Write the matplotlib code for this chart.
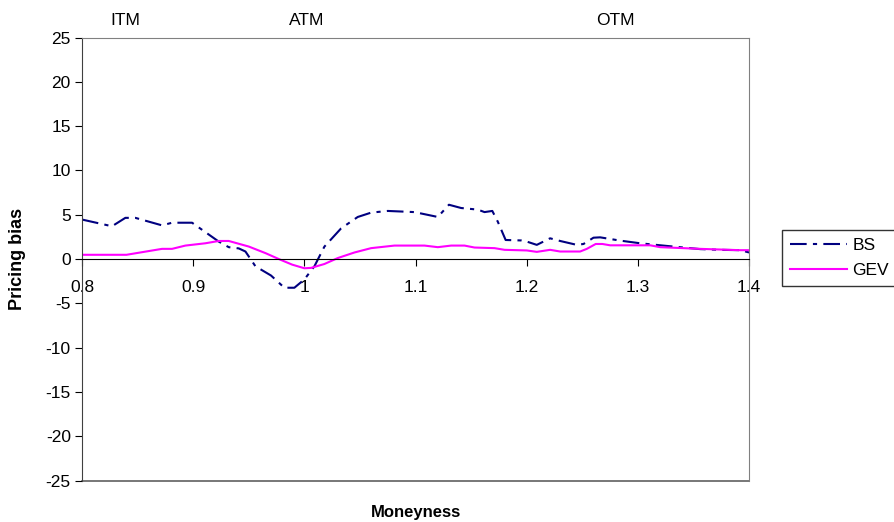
import matplotlib
matplotlib.use("Agg")
import matplotlib.pyplot as plt

plt.rcParams['font.family'] = ['Liberation Sans', 'DejaVu Sans']

bs_x = [0.800, 0.827, 0.839, 0.848, 0.872, 0.881, 0.899, 0.923, 0.932, 0.941,
        0.947, 0.956, 0.970, 0.982, 0.991, 1.000, 1.009, 1.018, 1.033, 1.048,
        1.060, 1.075, 1.099, 1.120, 1.130, 1.141, 1.156, 1.162, 1.169, 1.174,
        1.181, 1.195, 1.200, 1.209, 1.221, 1.230, 1.245, 1.251, 1.260, 1.266,
        1.284, 1.302, 1.326, 1.356, 1.374, 1.392, 1.400]
bs_y = [4.46, 3.7, 4.65, 4.65, 3.8, 4.1, 4.1, 1.97, 1.34, 1.2,
        0.85, -0.82, -1.86, -3.24, -3.24, -2.3, -0.82, 1.4, 3.46, 4.75,
        5.24, 5.43, 5.3, 4.75, 6.13, 5.76, 5.58, 5.3, 5.43, 4.2,
        2.15, 2.1, 1.97, 1.6, 2.34, 2.04, 1.6, 1.7, 2.41, 2.45,
        2.08, 1.78, 1.48, 1.12, 1.04, 1.0, 0.74]

gev_x = [0.800, 0.840, 0.872, 0.881, 0.893, 0.911, 0.923, 0.932, 0.950, 0.965,
         0.977, 0.989, 1.000, 1.006, 1.018, 1.030, 1.045, 1.060, 1.081, 1.108,
         1.120, 1.132, 1.144, 1.153, 1.171, 1.180, 1.200, 1.209, 1.221, 1.230,
         1.248, 1.254, 1.262, 1.268, 1.275, 1.311, 1.320, 1.356, 1.392, 1.400]
gev_y = [0.48, 0.48, 1.15, 1.15, 1.52, 1.78, 2.04, 2.04, 1.41, 0.67,
         0.0, -0.63, -1.04, -1.0, -0.56, 0.11, 0.74, 1.23, 1.52, 1.52,
         1.34, 1.52, 1.52, 1.3, 1.23, 1.04, 0.97, 0.81, 1.04, 0.85,
         0.85, 1.15, 1.7, 1.7, 1.55, 1.55, 1.34, 1.15, 1.0, 1.0]

x_ticks = [0.8, 0.9, 1.0, 1.1, 1.2, 1.3, 1.4]
x_tick_labels = ["0.8", "0.9", "1", "1.1", "1.2", "1.3", "1.4"]
y_ticks = [25, 20, 15, 10, 5, 0, -5, -10, -15, -20, -25]
zone_labels = ["ITM", "ATM", "OTM"]
zone_pos = [0.839, 1.002, 1.28]

FS = 12.5

fig = plt.figure(figsize=(8.94, 5.22), dpi=100)
ax = fig.add_axes([0.0917, 0.0795, 0.838 - 0.0917, 0.928 - 0.0795])

ax.plot(bs_x, bs_y, color='#000080', lw=1.5, linestyle=(0, (8, 3, 2, 3)), label='BS')
ax.plot(gev_x, gev_y, color='#FF00FF', lw=1.5, label='GEV')

ax.set_xlim(0.8, 1.4)
ax.set_ylim(-25, 25)
ax.set_yticks(y_ticks)
ax.set_yticklabels([str(v) for v in y_ticks])
ax.set_xticks(x_ticks)
ax.set_xticklabels(x_tick_labels)

# Excel-style: category axis crosses at 0
ax.spines['bottom'].set_position(('data', 0))
ax.spines['bottom'].set_color('black')
ax.spines['left'].set_color('#404040')
ax.spines['top'].set_color('#808080')
ax.spines['right'].set_color('#808080')
ax.axhline(-25, color='#606060', lw=1.2, clip_on=False, zorder=0)
ax.tick_params(axis='x', direction='out', length=5, pad=10, labelsize=FS)
ax.tick_params(axis='y', direction='out', length=5, pad=3, labelsize=FS)

for lab, xp in zip(zone_labels, zone_pos):
    ax.text(xp, 26.9, lab, ha='center', va='center', fontsize=FS, clip_on=False)

fig.text(0.0917 + (0.838 - 0.0917) / 2, (522 - 512) / 522, 'Moneyness',
         ha='center', va='center', fontsize=FS - 0.5, fontweight='bold')
fig.text(18 / 894, (522 - 259) / 522, 'Pricing bias', ha='center', va='center',
         rotation=90, fontsize=13, fontweight='bold')

leg = fig.legend(loc='center left', bbox_to_anchor=(782 / 894, (522 - 258) / 522),
                 frameon=True, fancybox=False, fontsize=FS, handlelength=3.3,
                 borderaxespad=0, borderpad=0.45, handletextpad=0.3, labelspacing=0.6)
leg.get_frame().set_edgecolor('black')
leg.get_frame().set_linewidth(1.0)

fig.savefig('out.png', dpi=100)
